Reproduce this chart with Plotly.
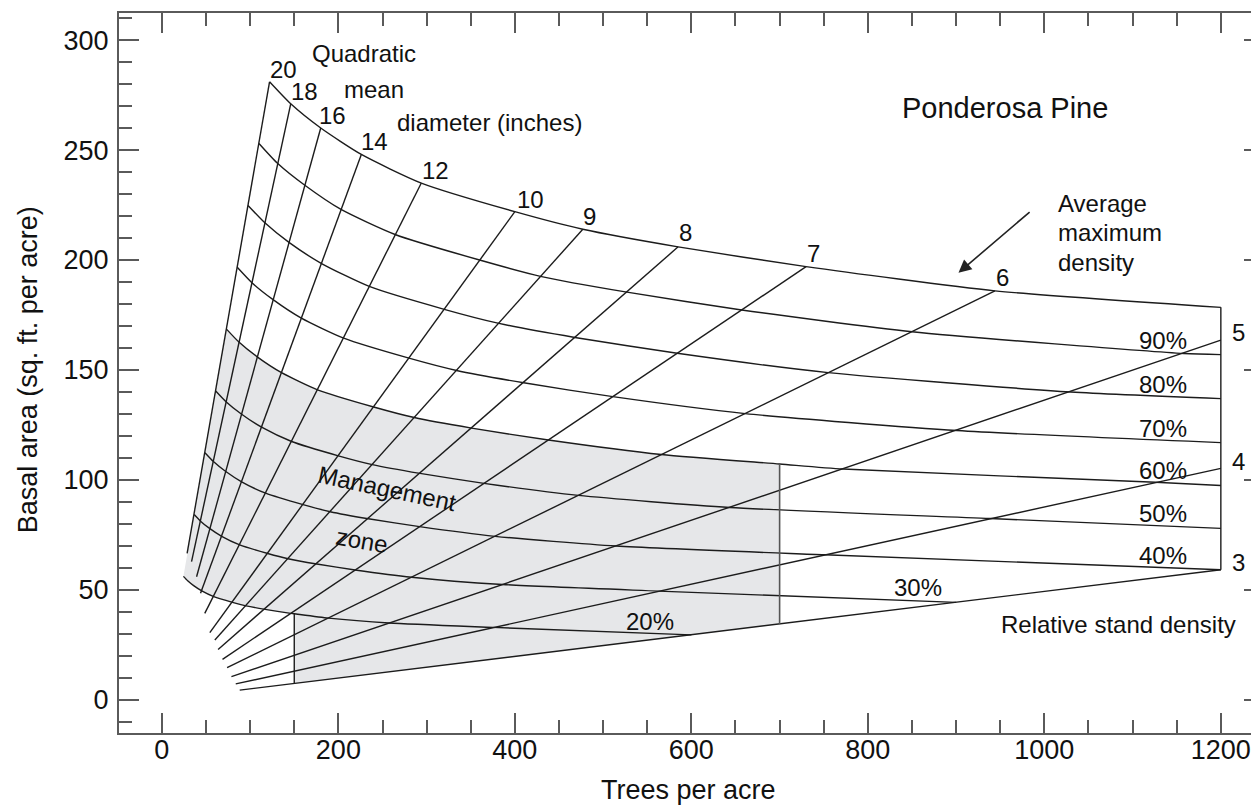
import plotly.graph_objects as go

# ---------------- data ----------------
qmd_labels = ["20", "18", "16", "14", "12", "10", "9", "8", "7", "6", "5", "4", "3"]
qmd_tpa_low = [28.6, 33.6, 39.3, 43.8, 48.6, 54.3, 60.0, 63.7, 68.7, 73.9, 78.8, 83.7, 88.2]
qmd_ba_low = [66.7, 62.9, 56.0, 48.5, 39.4, 30.6, 27.3, 23.0, 18.5, 14.7, 10.6, 7.3, 4.5]
qmd_tpa_high = [122, 146, 180, 226, 294, 400, 477, 585, 730, 944, 1200, 1200, 1200]
qmd_ba_high = [281, 271, 260, 248, 235, 222, 214, 206, 197, 186, 163.6, 105.3, 59.2]

max_tpa = [122, 146, 180, 226, 294, 400, 477, 585, 730, 944, 1200]
max_ba = [281, 271, 260, 248, 235, 222, 214, 206, 197, 186, 178.5]

rd90_tpa = [110, 131, 162, 203, 265, 360, 429, 527, 657, 850, 1158, 1200]
rd90_ba = [253, 244, 234, 223, 211.5, 200, 192.6, 185.4, 177.3, 167.4, 157.5, 157.0]
rd80_tpa = [97.6, 117, 144, 181, 235, 320, 382, 468, 584, 755, 1030, 1200]
rd80_ba = [224.8, 216.8, 208, 198.4, 188, 177.6, 171.2, 164.8, 157.6, 148.8, 140, 137]
rd70_tpa = [85.4, 102, 126, 158, 206, 280, 334, 410, 511, 661, 901, 1200]
rd70_ba = [196.7, 189.7, 182, 173.6, 164.5, 155.4, 149.8, 144.2, 137.9, 130.2, 122.5, 117]
rd60_tpa = [73.2, 87.6, 108, 135.6, 176.4, 240, 286, 351, 438, 566, 700, 772, 1126, 1200]
rd60_ba = [168.6, 162.6, 156, 148.8, 141, 133.2, 128.4, 123.6, 118.2, 111.6, 107.3, 105, 99, 97.5]
rd50_tpa = [61, 73, 90, 113, 147, 200, 238.5, 292.5, 365, 472, 643.5, 938.5, 1200]
rd50_ba = [140.5, 135.5, 130, 124, 117.5, 111, 107, 103, 98.5, 93, 87.5, 82.5, 78]
rd40_tpa = [48.8, 58.4, 72, 90.4, 117.6, 160, 190.8, 234, 292, 377.6, 514.8, 750.8, 1200]
rd40_ba = [112.4, 108.4, 104, 99.2, 94, 88.8, 85.6, 82.4, 78.8, 74.4, 70, 66, 59.2]
rd30_tpa = [36.6, 43.8, 54, 67.8, 88.2, 120, 143, 175.5, 219, 283, 386, 563, 900]
rd30_ba = [84.3, 81.3, 78, 74.4, 70.5, 66.6, 64.2, 61.8, 59.1, 55.8, 52.5, 49.5, 44.4]
rd20_tpa = [24.4, 29.2, 36, 45.2, 58.8, 80, 95.4, 117, 146, 150, 188.8, 257.4, 375.4, 600]
rd20_ba = [56.2, 54.2, 52, 49.6, 47, 44.4, 42.8, 41.2, 39.4, 39.2, 37.2, 35, 33, 29.6]

right_edge_tpa = [1200, 1200]
right_edge_ba = [178.5, 59.2]

zone_tpa_min, zone_tpa_max = 150, 700
zone_left_ba = [7.4, 39.2]     # D3 line -> 20% curve at 150 TPA
zone_right_ba = [34.5, 107.3]  # D3 line -> 60% curve at 700 TPA

x_ticks = [0, 200, 400, 600, 800, 1000, 1200]
y_ticks = [0, 50, 100, 150, 200, 250, 300]

# ---------------- figure ----------------
LINE = "#1c1c1c"
FONT = "Liberation Sans, Arial, Helvetica, sans-serif"
fig = go.Figure()

# management zone polygon (from the curves above)
n60 = rd60_tpa.index(zone_tpa_max) + 1
n20 = rd20_tpa.index(zone_tpa_min) + 1
poly_x = rd60_tpa[:n60] + [zone_tpa_max, zone_tpa_min] + list(reversed(rd20_tpa[:n20])) + [rd60_tpa[0]]
poly_y = rd60_ba[:n60] + [zone_right_ba[0], zone_left_ba[0]] + list(reversed(rd20_ba[:n20])) + [rd60_ba[0]]
fig.add_trace(go.Scatter(x=poly_x, y=poly_y, fill="toself", fillcolor="#e6e7e9",
                         line=dict(width=0), mode="lines", hoverinfo="skip"))

# quadratic mean diameter lines
for i in range(len(qmd_labels)):
    fig.add_trace(go.Scatter(x=[qmd_tpa_low[i], qmd_tpa_high[i]], y=[qmd_ba_low[i], qmd_ba_high[i]],
                             mode="lines", line=dict(color=LINE, width=1.4)))

# relative density curves
for xs, ys in [(max_tpa, max_ba), (rd90_tpa, rd90_ba), (rd80_tpa, rd80_ba), (rd70_tpa, rd70_ba),
               (rd60_tpa, rd60_ba), (rd50_tpa, rd50_ba), (rd40_tpa, rd40_ba), (rd30_tpa, rd30_ba),
               (rd20_tpa, rd20_ba)]:
    fig.add_trace(go.Scatter(x=xs, y=ys, mode="lines",
                             line=dict(color=LINE, width=1.4, shape="spline", smoothing=0.6)))

fig.add_trace(go.Scatter(x=right_edge_tpa, y=right_edge_ba, mode="lines", line=dict(color=LINE, width=1.4)))
fig.add_trace(go.Scatter(x=[zone_tpa_min, zone_tpa_min], y=zone_left_ba, mode="lines",
                         line=dict(color=LINE, width=1.4)))
fig.add_trace(go.Scatter(x=[zone_tpa_max, zone_tpa_max], y=zone_right_ba, mode="lines",
                         line=dict(color="#555555", width=1.6)))

# ---------------- text ----------------
def txt(x, y, s, size=24, angle=0, xanchor="center"):
    fig.add_annotation(x=x, y=y, text=s, showarrow=False, textangle=angle, xanchor=xanchor,
                       yanchor="middle", font=dict(family=FONT, size=size, color="#111111"))

qmd_label_pos = [(138.3, 286.4), (162.1, 276.5), (193.8, 265.5), (241, 253.8), (310, 240.9),
                 (417.4, 227.3), (484.2, 220), (592.8, 212.3), (738.7, 203.2), (952.5, 192.1),
                 (1210, 167), (1210, 108.3), (1210, 62.4)]
for lab, (px, py) in zip(qmd_labels, qmd_label_pos):
    txt(px, py, lab, xanchor="left" if lab in ("5", "4", "3") else "center")

txt(228.8, 294, "Quadratic")
txt(239.8, 277.3, "mean")
txt(371.6, 262.7, "diameter (inches)")
txt(955.9, 269.1, "Ponderosa Pine", size=29)
txt(1013.6, 225.5, "Average", xanchor="left")
txt(1013.6, 212.3, "maximum", xanchor="left")
txt(1013.6, 199.1, "density", xanchor="left")

for lab, py in [("90%", 163.6), ("80%", 143.2), ("70%", 123.5), ("60%", 104.2), ("50%", 84.9), ("40%", 65.5)]:
    txt(1134.6, py, lab)
txt(856.7, 51.2, "30%")
txt(552.8, 35.6, "20%")
txt(1083.6, 34.1, "Relative stand density")
txt(254.9, 96.2, "Management", angle=12)
txt(227, 72.7, "zone", angle=10)

fig.add_annotation(x=902.7, y=194.2, ax=985, ay=222.4, xref="x", yref="y", axref="x", ayref="y",
                   text="", showarrow=True, arrowhead=2, arrowsize=1.6, arrowwidth=1.6,
                   arrowcolor="#222222")

# axis titles
fig.add_annotation(x=0.4978, y=-0.079, xref="paper", yref="paper", text="Trees per acre",
                   showarrow=False, font=dict(family=FONT, size=27, color="#111111"),
                   xanchor="center", yanchor="middle")
fig.add_annotation(x=-0.0793, y=0.504, xref="paper", yref="paper", text="Basal area (sq. ft. per acre)",
                   showarrow=False, textangle=-90, font=dict(family=FONT, size=27, color="#111111"),
                   xanchor="center", yanchor="middle")

axis_common = dict(showgrid=False, zeroline=False, showline=True, linecolor="#5a5a5a", linewidth=2,
                   mirror="allticks", ticks="inside", tickcolor="#5a5a5a", tickwidth=1.5,
                   tickfont=dict(family=FONT, size=27, color="#111111"))
fig.update_xaxes(range=[-48.6, 1248.9], tickvals=x_ticks, ticklen=20, ticklabelstandoff=-8,
                 minor=dict(dtick=50, ticks="inside", ticklen=13, tickcolor="#5a5a5a", tickwidth=1.5),
                 **axis_common)
fig.update_yaxes(range=[-15, 312.3], tickvals=y_ticks, ticklen=20, ticklabelstandoff=3,
                 minor=dict(dtick=10, ticks="inside", ticklen=13, tickcolor="#5a5a5a", tickwidth=1.5),
                 **axis_common)

# the page body adds an 8 px margin; the right frame of the reference lies just past the picture edge
fig.update_layout(width=1258, height=798, margin=dict(l=111, r=0, t=5, b=73),
                  paper_bgcolor="white", plot_bgcolor="white", showlegend=False)

fig.write_html("out.html")
